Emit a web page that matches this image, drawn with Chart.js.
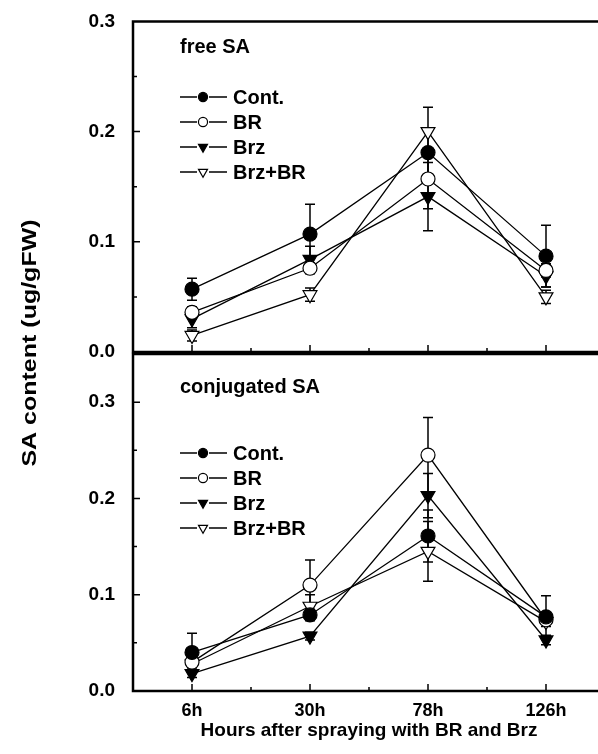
<!DOCTYPE html>
<html>
<head>
<meta charset="utf-8">
<script src="https://cdn.jsdelivr.net/npm/chart.js@4.4.0/dist/chart.umd.min.js"></script>
<style>
  html, body { margin: 0; padding: 0; background: #fff; overflow: hidden; }
  #wrap { position: relative; width: 598px; height: 754px; overflow: hidden; }
  .panel { position: absolute; left: 0; top: 0; }
</style>
</head>
<body>
<div id="wrap">
  <canvas id="freeChart" class="panel" width="620" height="754"></canvas>
  <canvas id="conjChart" class="panel" width="620" height="754"></canvas>
</div>
<script>
// Data
const hours = ['6h', '30h', '78h', '126h'];
const seriesNames = ['Cont.', 'BR', 'Brz', 'Brz+BR'];
const yTicks = [0, 0.1, 0.2, 0.3];

// free SA
const freeCont  = [0.057, 0.107, 0.181, 0.087];
const freeBR    = [0.036, 0.076, 0.157, 0.074];
const freeBrz   = [0.030, 0.084, 0.141, 0.069];
const freeBrzBR = [0.015, 0.052, 0.200, 0.050];
const freeContErr  = [0.010, 0.027, 0.020, 0.028];
const freeBRErr    = [0.005, 0.005, 0.027, 0.006];
const freeBrzErr   = [0.008, 0.012, 0.031, 0.010];
const freeBrzBRErr = [0.005, 0.006, 0.022, 0.006];

// conjugated SA
const conjCont  = [0.040, 0.079, 0.161, 0.077];
const conjBR    = [0.030, 0.110, 0.245, 0.074];
const conjBrz   = [0.018, 0.057, 0.203, 0.053];
const conjBrzBR = [0.028, 0.088, 0.145, 0.072];
const conjContErr  = [0.020, 0.006, 0.027, 0.022];
const conjBRErr    = [0.005, 0.026, 0.039, 0.005];
const conjBrzErr   = [0.004, 0.004, 0.023, 0.005];
const conjBrzBRErr = [0.004, 0.012, 0.031, 0.005];

const FONT = '"Liberation Sans", Arial, sans-serif';
Chart.defaults.font.family = FONT;
Chart.defaults.color = '#000';

// marker styles per series
const markers = [
    { pointStyle: 'circle',   rotation: 0,   radius: 7, fill: '#000' },
    { pointStyle: 'circle',   rotation: 0,   radius: 7, fill: '#fff' },
    { pointStyle: 'triangle', rotation: 180, radius: 8, fill: '#000' },
    { pointStyle: 'triangle', rotation: 180, radius: 8, fill: '#fff' }
];

function makeDatasets(seriesList) {
    return seriesList.map((vals, i) => ({
        label: seriesNames[i],
        data: vals.map((v, j) => ({ x: j, y: v })),
        borderColor: '#000',
        borderWidth: 1.3,
        tension: 0,
        pointStyle: markers[i].pointStyle,
        rotation: markers[i].rotation,
        pointRadius: markers[i].radius,
        pointBackgroundColor: markers[i].fill,
        pointBorderColor: '#000',
        pointBorderWidth: 1.2
    }));
}

// Error bars, frame, inward ticks, legend and panel label
const panelDecor = {
    id: 'panelDecor',
    beforeDatasetsDraw(chart, args, opts) {
        const ctx = chart.ctx;
        const xs = chart.scales.x, ys = chart.scales.y;
        ctx.save();
        ctx.strokeStyle = '#000';
        ctx.lineWidth = 1.5;
        opts.errors.forEach((errs, i) => {
            chart.data.datasets[i].data.forEach((p, j) => {
                const x = xs.getPixelForValue(p.x);
                const y1 = ys.getPixelForValue(p.y + errs[j]);
                const y2 = ys.getPixelForValue(p.y - errs[j]);
                ctx.beginPath();
                ctx.moveTo(x, y1); ctx.lineTo(x, y2);
                ctx.moveTo(x - 5, y1); ctx.lineTo(x + 5, y1);
                ctx.moveTo(x - 5, y2); ctx.lineTo(x + 5, y2);
                ctx.stroke();
            });
        });
        ctx.restore();
    },
    afterDraw(chart, args, opts) {
        const ctx = chart.ctx;
        const a = chart.chartArea;
        const xs = chart.scales.x, ys = chart.scales.y;
        ctx.save();
        ctx.strokeStyle = '#000';
        ctx.fillStyle = '#000';

        // frame
        ctx.lineWidth = 2.5;
        ctx.beginPath();
        ctx.moveTo(a.right, a.top); ctx.lineTo(a.left, a.top);
        ctx.lineTo(a.left, a.bottom); ctx.lineTo(a.right, a.bottom);
        ctx.lineTo(a.right, a.top);
        ctx.stroke();

        // inward ticks
        ctx.lineWidth = 1.5;
        ctx.beginPath();
        for (let v = -0.5; v <= 3.5; v += 0.5) {
            const x = xs.getPixelForValue(v);
            const len = Number.isInteger(v) ? 7 : 4;
            ctx.moveTo(x, a.bottom); ctx.lineTo(x, a.bottom - len);
        }
        for (let k = 1; k * 0.05 < ys.max - 1e-9; k++) {
            const y = ys.getPixelForValue(k * 0.05);
            const len = k % 2 === 0 ? 7 : 4;
            ctx.moveTo(a.left, y); ctx.lineTo(a.left + len, y);
        }
        ctx.stroke();

        // panel label
        ctx.font = 'bold 20px ' + FONT;
        ctx.textBaseline = 'middle';
        ctx.textAlign = 'left';
        ctx.fillText(opts.label, 180, opts.labelY);

        // legend
        ctx.font = 'bold 20px ' + FONT;
        chart.data.datasets.forEach((ds, i) => {
            const y = opts.legendTop + i * 25;
            ctx.lineWidth = 1.3;
            ctx.beginPath();
            ctx.moveTo(180, y); ctx.lineTo(197, y);
            ctx.moveTo(209, y); ctx.lineTo(227, y);
            ctx.stroke();
            ctx.fillStyle = markers[i].fill;
            ctx.lineWidth = 1.2;
            Chart.helpers.drawPoint(ctx, {
                pointStyle: markers[i].pointStyle,
                rotation: markers[i].rotation,
                radius: markers[i].radius * 0.65,
                borderWidth: 1.2
            }, 203, y);
            ctx.fillStyle = '#000';
            ctx.fillText(ds.label, 233, y + 1);
        });

        // y title shared by both panels (stretched along its length like the original)
        if (opts.yTitle) {
            ctx.font = 'bold 20px ' + FONT;
            ctx.translate(30, 343);
            ctx.rotate(-Math.PI / 2);
            ctx.scale(1.25, 1);
            ctx.textAlign = 'center';
            ctx.fillText(opts.yTitle, 0, 0);
        }
        ctx.restore();
    }
};

function makePanel(id, seriesList, errors, cfg) {
    return new Chart(document.getElementById(id), {
        type: 'line',
        data: { datasets: makeDatasets(seriesList) },
        plugins: [panelDecor],
        options: {
            responsive: false,
            animation: false,
            layout: { padding: { top: cfg.top, right: 15, left: 0, bottom: 0 } },
            plugins: {
                legend: { display: false },
                tooltip: { enabled: false },
                panelDecor: {
                    errors: errors,
                    label: cfg.label,
                    labelY: cfg.labelY,
                    legendTop: cfg.legendTop,
                    yTitle: cfg.yTitle
                }
            },
            scales: {
                x: {
                    type: 'linear',
                    min: -0.5,
                    max: 3.5,
                    grid: { display: false },
                    border: { display: false },
                    afterBuildTicks: s => { s.ticks = hours.map((h, j) => ({ value: j })); },
                    afterFit: s => { s.height = cfg.xHeight; },
                    ticks: {
                        display: cfg.showX,
                        padding: 1,
                        font: { size: 18, weight: 'bold' },
                        callback: v => hours[v]
                    },
                    title: {
                        display: cfg.showX,
                        text: 'Hours after spraying with BR and Brz',
                        font: { size: 19, weight: 'bold' },
                        padding: { top: 0, bottom: 12 }
                    }
                },
                y: {
                    min: 0,
                    max: cfg.yMax,
                    grid: { display: false },
                    border: { display: false },
                    afterBuildTicks: s => { s.ticks = yTicks.map(v => ({ value: v })); },
                    afterFit: s => { s.width = 133; },
                    ticks: {
                        padding: 10,
                        font: { size: 19, weight: 'bold' },
                        callback: v => v.toFixed(1)
                    }
                }
            }
        }
    });
}

makePanel('freeChart',
    [freeCont, freeBR, freeBrz, freeBrzBR],
    [freeContErr, freeBRErr, freeBrzErr, freeBrzBRErr],
    { top: 20, xHeight: 402, yMax: 0.3, showX: false, label: 'free SA', labelY: 47,
      legendTop: 97, yTitle: 'SA content (ug/gFW)' });

makePanel('conjChart',
    [conjCont, conjBR, conjBrz, conjBrzBR],
    [conjContErr, conjBRErr, conjBrzErr, conjBrzBRErr],
    { top: 354, xHeight: 63, yMax: 0.35, showX: true, label: 'conjugated SA', labelY: 387,
      legendTop: 453, yTitle: null });
</script>
</body>
</html>
